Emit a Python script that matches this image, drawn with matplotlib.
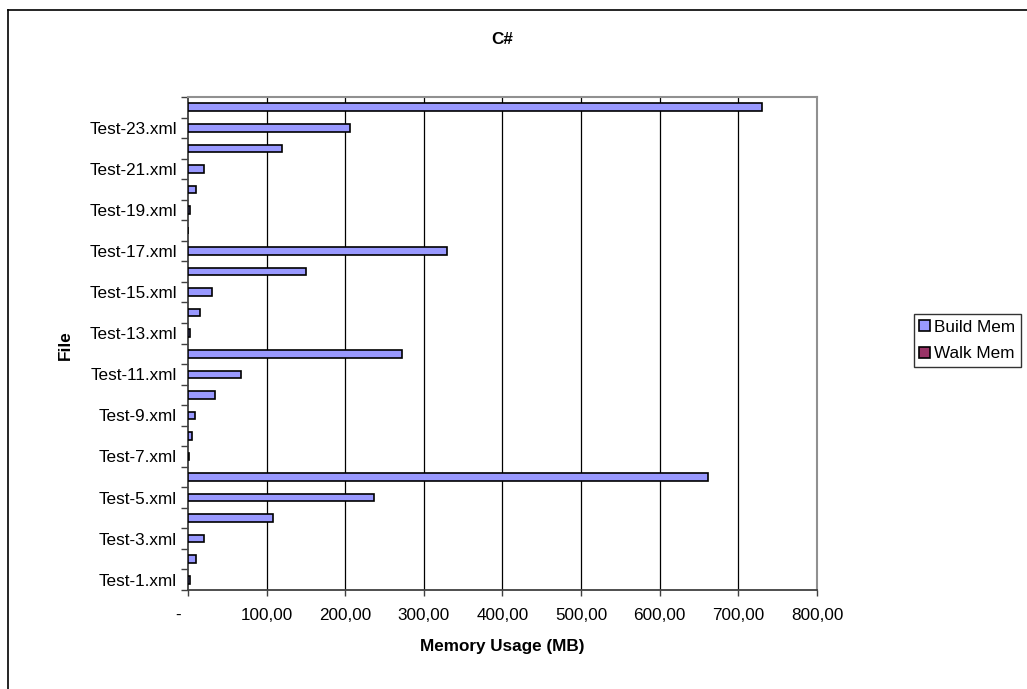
import matplotlib.pyplot as plt
from matplotlib.lines import Line2D
from matplotlib.patches import Patch
from matplotlib.transforms import ScaledTranslation
import numpy as np

# data (MB), Test-1 .. Test-24
files = ["Test-%d.xml" % i for i in range(1, 25)]
build_mem = [2, 10, 20, 108, 236, 662,
             1.5, 4.7, 9, 34, 68, 272,
             3, 15, 30, 150, 329, 0,
             2, 10, 20, 120, 206, 730]
walk_mem = [0] * 24

plt.rcParams['font.family'] = ['Liberation Sans', 'DejaVu Sans']
plt.rcParams['font.size'] = 12.3

W, H = 1027, 689
fig = plt.figure(figsize=(W / 100, H / 100), dpi=100)
ax = fig.add_axes([188 / W, 1 - 590 / H, (817 - 188) / W, (590 - 97) / H])

y = np.arange(len(files))
bh = 0.37
ax.barh(y, build_mem, height=bh, color='#9999FF', edgecolor='black', linewidth=1.2, zorder=3, label='Build Mem')
ax.barh(y, walk_mem, height=bh, color='#993366', edgecolor='none', linewidth=0, zorder=3, label='Walk Mem')

ax.set_xlim(0, 800)
ax.set_ylim(-0.5, len(files) - 0.5)

# x axis
xt = np.arange(0, 801, 100)
ax.set_xticks(xt)
ax.set_xticklabels(['-' if v == 0 else ('%.2f' % v).replace('.', ',') for v in xt])
ax.tick_params(axis='x', direction='out', length=4, width=1, color='#404040', pad=9)
# the zero label sits a little left of the axis, like the accounting format
zero_lbl = ax.get_xticklabels()[0]
zero_lbl.set_transform(zero_lbl.get_transform() + ScaledTranslation(-0.10, 0, fig.dpi_scale_trans))
for v in xt[1:-1]:
    ax.axvline(v, color='black', linewidth=0.9, zorder=1)

# y axis: ticks on category boundaries, labels on every other category
ax.set_yticks(np.arange(-0.5, len(files), 1.0))
ax.set_yticklabels([])
ax.set_yticks(y[::2], minor=True)
ax.set_yticklabels(files[::2], minor=True)
ax.tick_params(axis='y', which='major', direction='out', length=5, width=1, color='#404040')
ax.tick_params(axis='y', which='minor', length=0, pad=8)

ax.spines['left'].set_color('#404040')
ax.spines['bottom'].set_color('#404040')
ax.spines['left'].set_linewidth(1.3)
ax.spines['bottom'].set_linewidth(1.3)
ax.spines['top'].set_color('#909090')
ax.spines['right'].set_color('#909090')
ax.spines['top'].set_linewidth(1.5)
ax.spines['right'].set_linewidth(1.5)

# titles
fig.text(502 / W, 1 - 40 / H, 'C#', ha='center', va='center', fontweight='bold')
fig.text(65 / W, 1 - 345 / H, 'File', ha='center', va='center', rotation=90, fontweight='bold')
fig.text(502 / W, 1 - 647 / H, 'Memory Usage (MB)', ha='center', va='center', fontweight='bold')

# legend
handles = [Patch(facecolor='#9999FF', edgecolor='black', linewidth=1.2),
           Patch(facecolor='#993366', edgecolor='black', linewidth=1.2)]
leg = fig.legend(handles, ['Build Mem', 'Walk Mem'], loc='center left',
                 bbox_to_anchor=(914 / W, 1 - 340.5 / H), frameon=True, fancybox=False,
                 fontsize=12.3, handlelength=0.65, handleheight=0.65, handletextpad=0.25,
                 borderpad=0.3, labelspacing=0.7, borderaxespad=0)
leg.get_frame().set_edgecolor('black')
leg.get_frame().set_linewidth(1.0)

# outer chart border (left and top edges visible)
fig.add_artist(Line2D([8 / W, 8 / W], [0, 1 - 10 / H], color='black', linewidth=1.2, transform=fig.transFigure))
fig.add_artist(Line2D([8 / W, 1], [1 - 10 / H, 1 - 10 / H], color='black', linewidth=1.2, transform=fig.transFigure))

fig.savefig('out.png', dpi=100)
